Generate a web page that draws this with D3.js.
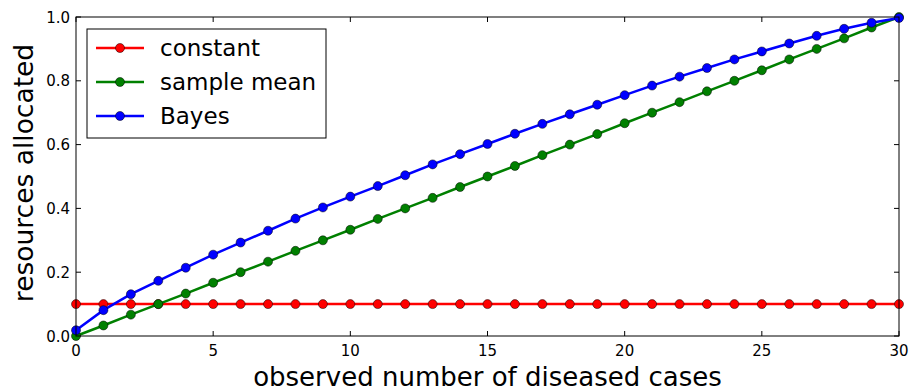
<!DOCTYPE html>
<html>
<head>
<meta charset="utf-8">
<script src="https://cdn.jsdelivr.net/npm/d3@7"></script>
<style>
  body { margin: 0; background: #fff; }
  text { font-family: "DejaVu Sans", sans-serif; fill: #000; }
</style>
</head>
<body>
<div id="chart"></div>
<script>
// observed number of diseased cases, 0..30
const cases = d3.range(0, 31);
const constant = cases.map(() => 0.1);
const sampleMean = [0, 0.033, 0.067, 0.1, 0.133, 0.167, 0.2, 0.233, 0.267, 0.3, 0.333,
  0.367, 0.4, 0.433, 0.467, 0.5, 0.533, 0.567, 0.6, 0.633, 0.667,
  0.7, 0.733, 0.767, 0.8, 0.833, 0.867, 0.9, 0.933, 0.967, 1.0];
const bayes = [0.018, 0.081, 0.131, 0.173, 0.214, 0.255, 0.293, 0.330, 0.368, 0.403, 0.437,
  0.470, 0.504, 0.538, 0.570, 0.602, 0.634, 0.665, 0.695, 0.725, 0.755,
  0.785, 0.813, 0.840, 0.867, 0.892, 0.917, 0.941, 0.963, 0.982, 0.997];
const xTicks = [0, 5, 10, 15, 20, 25, 30];
const yTicks = [0, 0.2, 0.4, 0.6, 0.8, 1.0];

const series = [
  {name: "constant", values: constant, color: "#ff0000"},
  {name: "sample mean", values: sampleMean, color: "#008000"},
  {name: "Bayes", values: bayes, color: "#0000ff"}
];

const width = 910, height = 389;
const margin = {top: 17, right: 11, bottom: 53, left: 76};
const iw = width - margin.left - margin.right;
const ih = height - margin.top - margin.bottom;

const x = d3.scaleLinear().domain([0, 30]).range([0, iw]);
const y = d3.scaleLinear().domain([0, 1]).range([ih, 0]);

const svg = d3.select("#chart").append("svg")
    .attr("width", width)
    .attr("height", height);

const g = svg.append("g").attr("transform", `translate(${margin.left},${margin.top})`);

// ticks point inward on all four sides
const tickLen = 5;
const tickG = g.append("g").attr("stroke", "#000").attr("stroke-width", 1);
xTicks.forEach(t => {
  tickG.append("line").attr("x1", x(t)).attr("x2", x(t)).attr("y1", ih).attr("y2", ih - tickLen);
  tickG.append("line").attr("x1", x(t)).attr("x2", x(t)).attr("y1", 0).attr("y2", tickLen);
});
yTicks.forEach(t => {
  tickG.append("line").attr("x1", 0).attr("x2", tickLen).attr("y1", y(t)).attr("y2", y(t));
  tickG.append("line").attr("x1", iw).attr("x2", iw - tickLen).attr("y1", y(t)).attr("y2", y(t));
});

g.append("g").selectAll("text")
  .data(xTicks)
  .join("text")
    .attr("x", d => x(d))
    .attr("y", ih + 20)
    .attr("text-anchor", "middle")
    .attr("font-size", 15)
    .text(d => d);

g.append("g").selectAll("text")
  .data(yTicks)
  .join("text")
    .attr("x", -6)
    .attr("y", d => y(d) + 5.5)
    .attr("text-anchor", "end")
    .attr("font-size", 15)
    .text(d => d3.format(".1f")(d));

// lines and markers
const line = d3.line()
    .x((d, i) => x(cases[i]))
    .y(d => y(d));

series.forEach(s => {
  const sg = g.append("g");
  sg.append("path")
      .datum(s.values)
      .attr("fill", "none")
      .attr("stroke", s.color)
      .attr("stroke-width", 2.5)
      .attr("d", line);
  sg.selectAll("circle")
    .data(s.values)
    .join("circle")
      .attr("cx", (d, i) => x(cases[i]))
      .attr("cy", d => y(d))
      .attr("r", 4.5)
      .attr("fill", s.color)
      .attr("stroke", "#000")
      .attr("stroke-width", 0.5);
});

// frame
g.append("rect")
    .attr("width", iw)
    .attr("height", ih)
    .attr("fill", "none")
    .attr("stroke", "#000")
    .attr("stroke-width", 1);

// legend
const legend = svg.append("g").attr("transform", "translate(87,29)");
legend.append("rect")
    .attr("width", 239)
    .attr("height", 109)
    .attr("fill", "#fff")
    .attr("stroke", "#000")
    .attr("stroke-width", 1);
series.forEach((s, i) => {
  const ly = 19 + i * 34;
  legend.append("line")
      .attr("x1", 9).attr("x2", 57)
      .attr("y1", ly).attr("y2", ly)
      .attr("stroke", s.color)
      .attr("stroke-width", 2.5);
  legend.append("circle")
      .attr("cx", 33).attr("cy", ly).attr("r", 4.5)
      .attr("fill", s.color)
      .attr("stroke", "#000")
      .attr("stroke-width", 0.5);
  legend.append("text")
      .attr("x", 73)
      .attr("y", ly + 8)
      .attr("font-size", 23)
      .text(s.name);
});

// axis labels
svg.append("text")
    .attr("x", margin.left + iw / 2)
    .attr("y", 386)
    .attr("text-anchor", "middle")
    .attr("font-size", 26)
    .text("observed number of diseased cases");

svg.append("text")
    .attr("transform", `translate(33,173) rotate(-90)`)
    .attr("text-anchor", "middle")
    .attr("font-size", 26.5)
    .text("resources allocated");
</script>
</body>
</html>
